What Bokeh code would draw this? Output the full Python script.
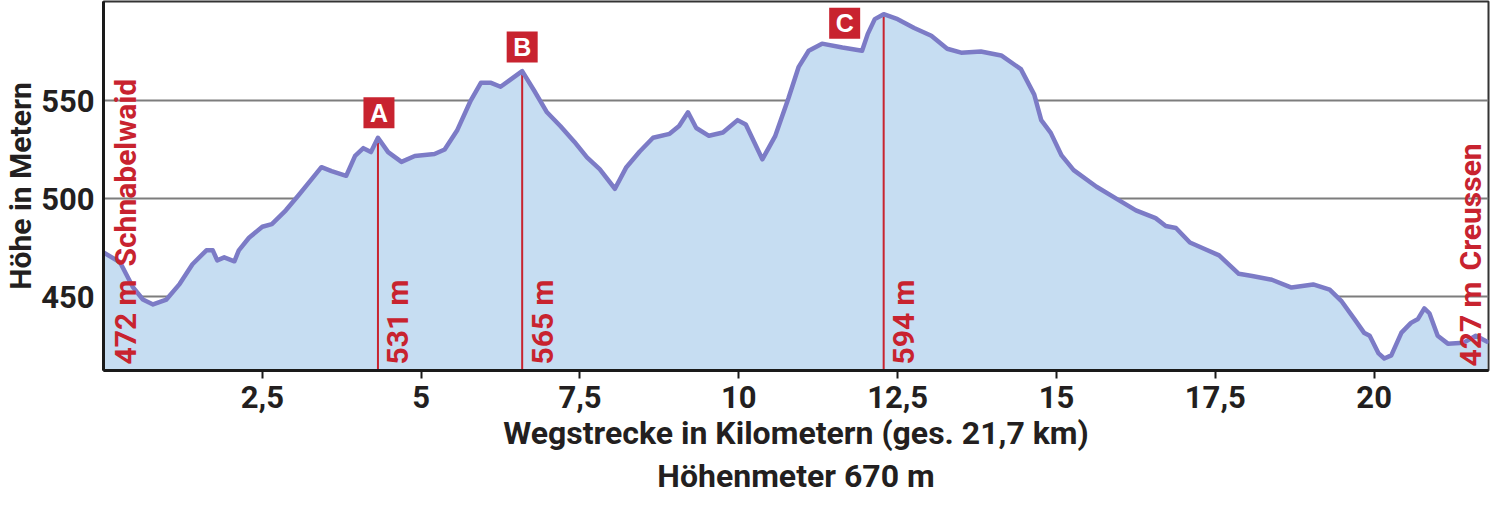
import math
from bokeh.plotting import figure
from bokeh.models import FixedTicker, Range1d, Title
from bokeh.core.properties import value
from bokeh.embed import file_html
from bokeh.resources import INLINE

# ---------------- data ----------------
dist_km = [0.0, 0.26, 0.46, 0.62, 0.78, 0.99, 1.2, 1.4, 1.62, 1.72, 1.79, 1.9, 2.06, 2.13,
           2.29, 2.5, 2.65, 2.87, 3.07, 3.28, 3.43, 3.59, 3.82, 3.96, 4.09, 4.21, 4.32,
           4.48, 4.69, 4.9, 5.21, 5.37, 5.57, 5.78, 5.94, 6.1, 6.25, 6.4, 6.59, 6.78,
           6.98, 7.19, 7.41, 7.61, 7.81, 8.05, 8.23, 8.44, 8.65, 8.91, 9.06, 9.2, 9.33,
           9.53, 9.75, 9.98, 10.11, 10.37, 10.57, 10.78, 10.94, 11.1, 11.31, 11.63,
           11.94, 12.03, 12.14, 12.28, 12.5, 12.76, 13.03, 13.28, 13.5, 13.81, 14.13,
           14.44, 14.65, 14.76, 14.91, 15.08, 15.27, 15.63, 16.0, 16.25, 16.56, 16.72,
           16.88, 17.1, 17.35, 17.56, 17.87, 18.08, 18.39, 18.7, 19.04, 19.3, 19.49,
           19.69, 19.84, 19.93, 20.07, 20.16, 20.27, 20.43, 20.58, 20.69, 20.79, 20.87,
           21.0, 21.16, 21.41, 21.6, 21.78]
elev_m = [472.5, 467.5, 455, 448.5, 446, 448.5, 456.5, 466.5, 473.6, 473.6, 468.5, 470, 468,
          473.6, 480, 485.6, 487, 494, 501.7, 510, 516, 514, 511.6, 521.8, 525.7, 523.7, 531,
          523.7, 518.7, 521.7, 522.7, 525, 535, 550, 559, 559, 557, 560.5, 565, 555,
          544, 537, 529, 521, 515, 505, 516, 524, 531, 533, 537, 544, 536,
          532, 533.7, 540, 537.8, 520, 531.7, 551, 567, 575.4, 579, 577,
          575.4, 584, 591.5, 594, 591.5, 587, 583, 576.4, 574.4, 575, 573,
          566, 553, 540, 533.5, 522, 514.5, 506, 498.8, 494, 490, 486,
          485, 477.6, 474, 471, 461.6, 460.5, 458.6, 454.6, 456.2, 453.5, 447.5,
          438.5, 431.6, 430, 421, 418.4, 420, 431.6, 436.6, 438.6, 444, 441.5,
          430, 426, 426.5, 430, 427]

marker_names = ["A", "B", "C"]
marker_km = [4.32, 6.59, 12.28]
marker_m = [531, 565, 594]
marker_labels = ["531 m", "565 m", "594 m"]

start_labels = ["472 m", "Schnabelwaid"]
end_labels = ["427 m", "Creussen"]

x_ticks = [2.5, 5, 7.5, 10, 12.5, 15, 17.5, 20]
x_tick_labels = ["2,5", "5", "7,5", "10", "12,5", "15", "17,5", "20"]
y_ticks = [450, 500, 550]

x_title = "Wegstrecke in Kilometern (ges. 21,7 km)"
sub_title = "Höhenmeter 670 m"
y_title = "Höhe in Metern"

# ---------------- styling ----------------
FONT = "Roboto"
RED = "#c8232f"
FILL = "#c6ddf2"
LINE = "#7c7bc6"
DARK = "#231f20"
GRID = "#7d7d7d"

X0, X1 = 0.0, 21.8
Y0, Y1 = 412.3, 600.5
FW, FH = 1385, 369

p = figure(frame_width=FW, frame_height=FH,
           min_border_left=97, min_border_right=2, min_border_top=1, min_border_bottom=128,
           x_range=Range1d(X0, X1), y_range=Range1d(Y0, Y1),
           output_backend="svg", toolbar_location=None,
           background_fill_color="white", border_fill_color="white")

p.outline_line_color = "#333333"
p.outline_line_width = 2

# axes
p.xaxis.ticker = FixedTicker(ticks=x_ticks)
p.xaxis.major_label_overrides = {t: l for t, l in zip(x_ticks, x_tick_labels)}
p.yaxis.ticker = FixedTicker(ticks=y_ticks)
p.xgrid.visible = False
p.ygrid.ticker = FixedTicker(ticks=y_ticks)
p.ygrid.grid_line_color = GRID
p.ygrid.grid_line_width = 2

for ax in (p.xaxis, p.yaxis):
    ax.axis_line_color = "#1a1a1a"
    ax.axis_line_width = 3
    ax.minor_tick_line_color = None
    ax.major_label_text_font = FONT
    ax.major_label_text_font_style = "bold"
    ax.major_label_text_font_size = "31px"
    ax.major_label_text_color = DARK
    ax.axis_label_text_font = FONT
    ax.axis_label_text_font_style = "bold"
    ax.axis_label_text_color = DARK

p.xaxis.major_tick_out = 8
p.xaxis.major_tick_in = 0
p.xaxis.major_tick_line_width = 2
p.xaxis.major_tick_line_color = "#1a1a1a"
p.xaxis.major_label_standoff = 7
p.xaxis.axis_label = x_title
p.xaxis.axis_label_text_font_size = "32px"
p.xaxis.axis_label_standoff = 3

p.yaxis.major_tick_out = 0
p.yaxis.major_tick_in = 0
p.yaxis.major_label_standoff = 9
p.yaxis.axis_label = y_title
p.yaxis.axis_label_text_font_size = "30px"
p.yaxis.axis_label_standoff = 0

p.add_layout(Title(text=sub_title, align="center", text_font=FONT, text_font_style="bold",
                   text_font_size="32px", text_color=DARK, standoff=0, offset=0), "below")

# profile
p.varea(x=dist_km, y1=Y0 - 5, y2=elev_m, fill_color=FILL)
p.segment(x0=marker_km, y0=[Y0] * len(marker_km), x1=marker_km, y1=marker_m,
          line_color=RED, line_width=2)
p.line(dist_km, elev_m, line_color=LINE, line_width=4.5, line_join="round", line_cap="round")

# marker boxes (offsets in screen pixels converted to data units)
px_km = FW / (X1 - X0)
px_m = FH / (Y1 - Y0)
box_dx = [1, 0, -39]
box_dy = [25, 24, -9]
box_x = [k + dx / px_km for k, dx in zip(marker_km, box_dx)]
box_y = [m + dy / px_m for m, dy in zip(marker_m, box_dy)]
p.rect(x=box_x, y=box_y, width=31, height=31, width_units="screen", height_units="screen",
       fill_color=RED, line_color=None)
p.text(x=box_x, y=box_y, text=marker_names, text_color="white",
       text_font=value("Liberation Sans"), text_font_style="bold", text_font_size="25px",
       text_align="center", text_baseline="middle")

common = dict(angle=math.pi / 2, text_align="left", text_baseline="middle",
              text_color=RED, text_font=value(FONT), text_font_style="bold",
              text_font_size="30px")
p.text(x=marker_km, y=[Y0] * len(marker_km), text=marker_labels,
       x_offset=20, y_offset=-6, **common)
p.text(x=[X0, X0], y=[Y0, Y0], text=start_labels, x_offset=22, y_offset=[-6, -104], **common)
p.text(x=[X1, X1], y=[Y0, Y0], text=end_labels, x_offset=-18, y_offset=[-4, -100], **common)

open("out.html", "w").write(file_html(p, INLINE))
